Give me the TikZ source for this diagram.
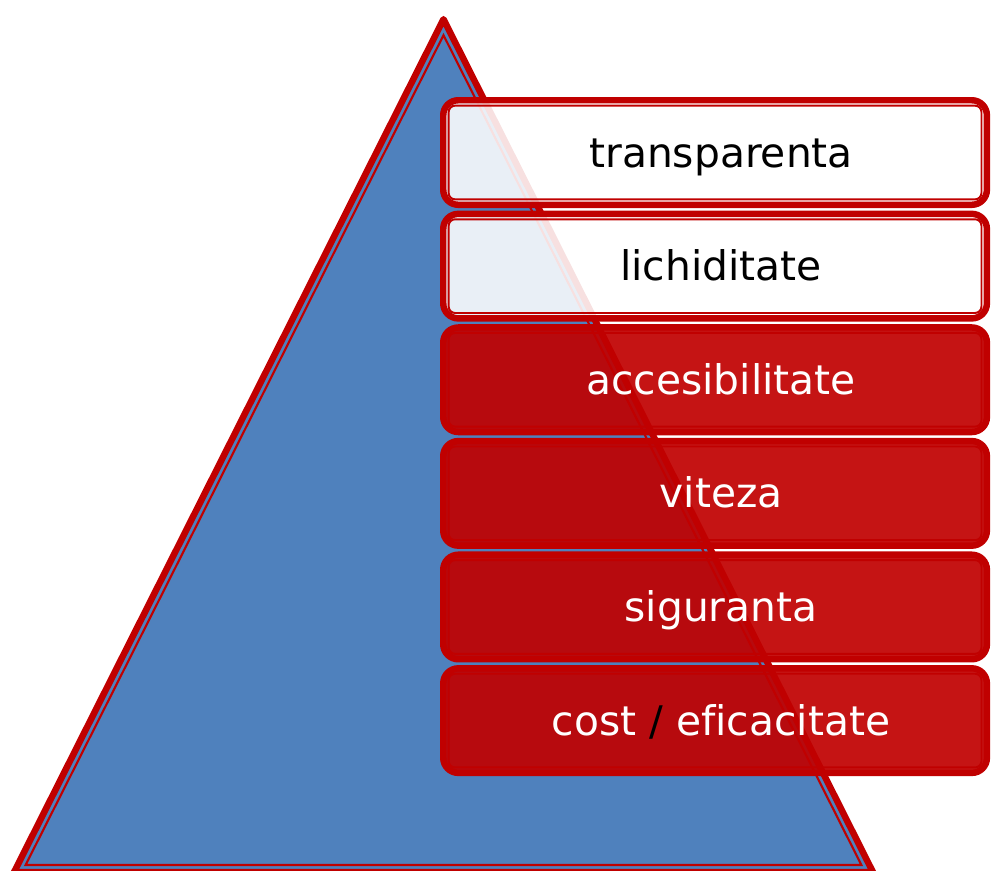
\documentclass[tikz,border=0pt]{standalone}
\usepackage{fontspec}
\setmainfont{DejaVu Sans}[Ligatures=NoCommon]
\usepackage{xcolor}
\usepackage{tikz}
\usetikzlibrary{positioning}
\definecolor{pyrblue}{HTML}{4F81BD}
\definecolor{pyrred}{HTML}{C00000}

\begin{document}
\begin{tikzpicture}[x=0.025cm, y=-0.025cm,
        panel/.style={draw=pyrred, line width=4.6pt, rounded corners=10.7pt, minimum width=13.588cm, minimum height=2.613cm, inner sep=0pt},
        pale/.style={panel, fill=white, fill opacity=0.88},
        dark/.style={panel, fill=pyrred, fill opacity=0.92},
        rim/.style={draw=pyrred, line width=1.4pt, rounded corners=4.6pt},
        lbl/.style={font=\fontsize{29}{34}\selectfont, anchor=base},
        node distance=0.065cm
    ]
        \useasboundingbox (0,0) rectangle (991,870);

        % pyramid with double red rim
        \draw [draw=pyrred, fill=pyrblue, line width=4.6pt, line join=round] (443.5,19.2) -- (14.1,872) -- (872.9,872) -- cycle;
        \draw [pyrred, line width=1.5pt] (443.5,35.2) -- (25.6,865) -- (861.4,865) -- cycle;

        % stacked panels
        \node [pale, anchor=north west] (transp) at (440,97) {};
        \node [pale, below=of transp] (lichid) {};
        \node [dark, below=of lichid] (acces) {};
        \node [dark, below=of acces] (viteza) {};
        \node [dark, below=of viteza] (sigur) {};
        \node [dark, below=of sigur] (cost) {};

        \foreach \p in {transp,lichid,acces,viteza,sigur,cost}
            \draw [rim] ([shift={(8.65,8.65)}]\p.north west) rectangle ([shift={(-8.65,-8.65)}]\p.south east);

        \node [lbl] (transp_t) at ([xshift=0.15cm, yshift=-0.3625cm]transp.center) {transparenta};
        \node [lbl] (lichid_t) at ([xshift=0.15cm, yshift=-0.3625cm]lichid.center) {lichiditate};
        \node [lbl, white] (acces_t) at ([xshift=0.15cm, yshift=-0.3625cm]acces.center) {accesibilitate};
        \node [lbl, white] (viteza_t) at ([xshift=0.15cm, yshift=-0.3625cm]viteza.center) {viteza};
        \node [lbl, white] (sigur_t) at ([xshift=0.15cm, yshift=-0.3625cm]sigur.center) {siguranta};
        \node [lbl, white] (cost_t) at ([xshift=0.15cm, yshift=-0.3625cm]cost.center) {cost {\color{black}/} eficacitate};
\end{tikzpicture}
\end{document}
